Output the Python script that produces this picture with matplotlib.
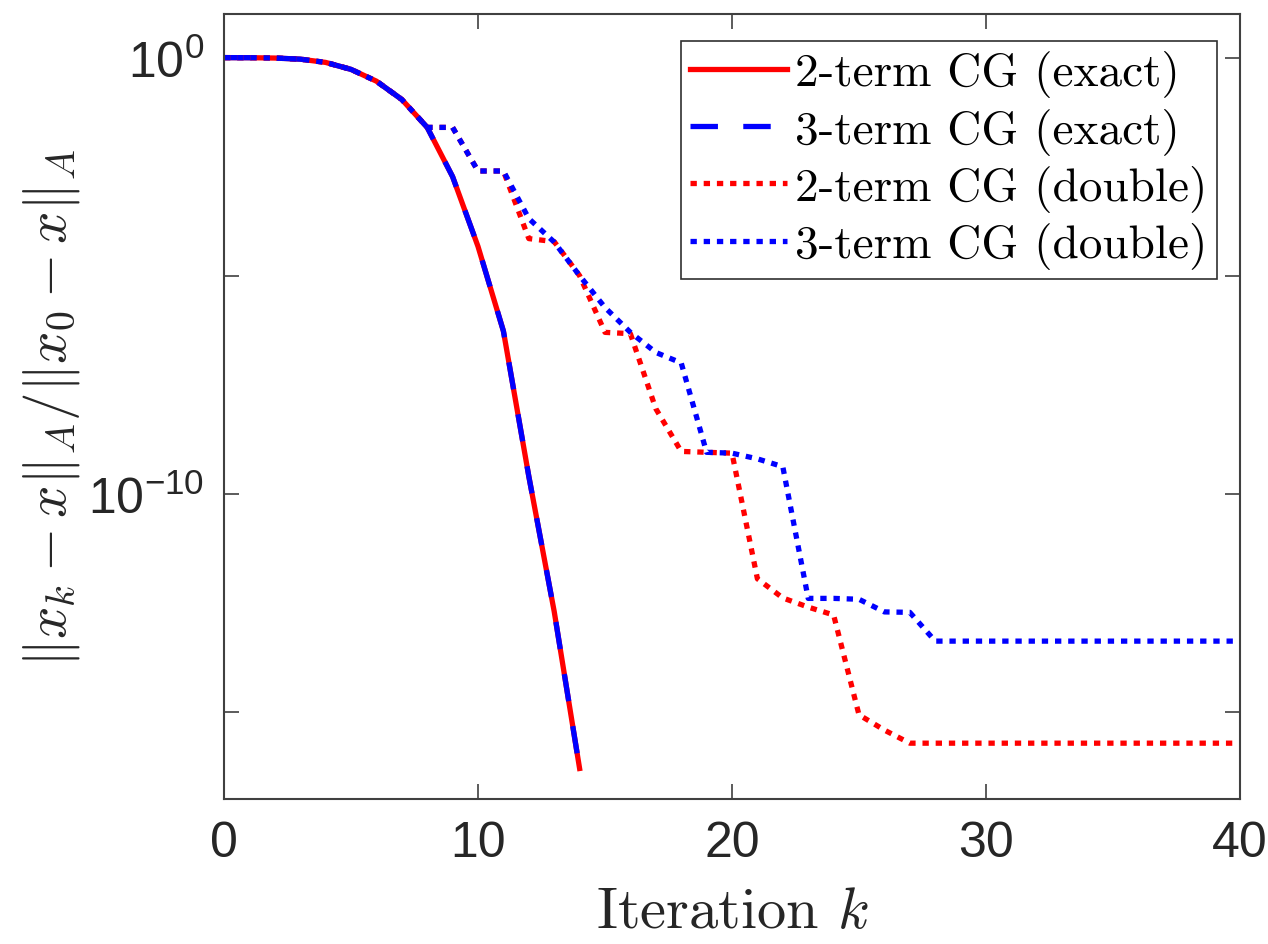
import numpy as np
import matplotlib.pyplot as plt
from matplotlib.ticker import FixedLocator, FixedFormatter, NullLocator

# relative A-norm error, stored as log10 values
iters_exact = np.arange(0, 15)
iters_double = np.arange(0, 41)

log_err_cg2_exact = [0, -0.002, -0.01, -0.035, -0.11, -0.27, -0.54, -0.96, -1.6,
                     -2.73, -4.33, -6.27, -9.6, -12.7, -16.3]
log_err_cg3_exact = [0, -0.002, -0.01, -0.035, -0.11, -0.27, -0.54, -0.96, -1.6,
                     -2.73, -4.33, -6.27, -9.6, -12.7, -16.3]

log_err_cg2_double = [0, -0.002, -0.01, -0.035, -0.11, -0.27, -0.54, -0.96, -1.6,
                      -1.6, -2.6, -2.6, -4.15, -4.22, -5.0, -6.3, -6.33, -8.05,
                      -9.03, -9.05, -9.07, -11.95, -12.39, -12.6, -12.78, -15.07,
                      -15.42, -15.72, -15.72, -15.72, -15.72, -15.72, -15.72,
                      -15.72, -15.72, -15.72, -15.72, -15.72, -15.72, -15.72, -15.72]
log_err_cg3_double = [0, -0.002, -0.01, -0.035, -0.11, -0.27, -0.54, -0.96, -1.6,
                      -1.6, -2.6, -2.6, -3.69, -4.23, -5.0, -5.73, -6.3, -6.76,
                      -7.0, -9.05, -9.07, -9.2, -9.38, -12.4, -12.4, -12.42,
                      -12.71, -12.72, -13.38, -13.38, -13.38, -13.38, -13.38,
                      -13.38, -13.38, -13.38, -13.38, -13.38, -13.38, -13.38, -13.38]

labels = ['2-term CG (exact)', '3-term CG (exact)',
          '2-term CG (double)', '3-term CG (double)']

ytick_vals = [1e-15, 1e-10, 1e-5, 1e0]
ytick_text = ['', r'$\mathregular{10^{-10}}$', '', r'$\mathregular{10^{0}}$']
xtick_vals = [0, 10, 20, 30, 40]

plt.rcParams['font.family'] = 'Liberation Sans'

fig = plt.figure(figsize=(12.68, 9.45), dpi=100)
ax = fig.add_axes([224 / 1268, 1 - 800 / 945, 1016 / 1268, 785 / 945])

lw = 3.8
ax.plot(iters_exact, 10.0 ** np.array(log_err_cg2_exact), color='red', lw=lw,
        label=labels[0])
ax.plot(iters_exact, 10.0 ** np.array(log_err_cg3_exact), color='blue', lw=lw,
        linestyle=(0, (5.2, 4.8)), label=labels[1])
ax.plot(iters_double, 10.0 ** np.array(log_err_cg2_double), color='red', lw=lw,
        linestyle=(0, (1.2, 1.3)), dash_capstyle='butt', label=labels[2])
ax.plot(iters_double, 10.0 ** np.array(log_err_cg3_double), color='blue', lw=lw,
        linestyle=(0, (1.2, 1.3)), dash_capstyle='butt', label=labels[3])

ax.set_yscale('log')
ax.set_xlim(0, 40)
ax.set_ylim(1e-17, 1e1)

ax.yaxis.set_major_locator(FixedLocator(ytick_vals))
ax.yaxis.set_major_formatter(FixedFormatter(ytick_text))
ax.yaxis.set_minor_locator(NullLocator())
ax.set_xticks(xtick_vals)

ax.tick_params(which='both', direction='in', top=True, right=True,
               length=11, width=1.2, color='#404040',
               labelsize=36, labelcolor='#262626')
ax.tick_params(axis='x', pad=15)
ax.tick_params(axis='y', pad=14)
for s in ax.spines.values():
    s.set_color('#404040')
    s.set_linewidth(1.5)

ax.set_xlabel(r'Iteration $k$', fontsize=42, family='cmr10',
              math_fontfamily='cm', color='#262626')
ax.set_ylabel(r'$\|x_k - x\|_A/\|x_0 - x\|_A$', fontsize=41,
              math_fontfamily='cm', color='#262626')
ax.yaxis.set_label_coords(-0.14, 0.5)
ax.xaxis.set_label_coords(0.5, -0.112)

leg = ax.legend(loc='upper right', bbox_to_anchor=(0.977, 0.966),
                borderaxespad=0, fancybox=False, framealpha=1,
                edgecolor='#303030', prop={'family': 'cmr10', 'size': 34},
                handlelength=2.05, handletextpad=0.17, labelspacing=0.22,
                borderpad=0.2)
leg.get_frame().set_linewidth(1.2)

fig.savefig('out.png', dpi=100)
